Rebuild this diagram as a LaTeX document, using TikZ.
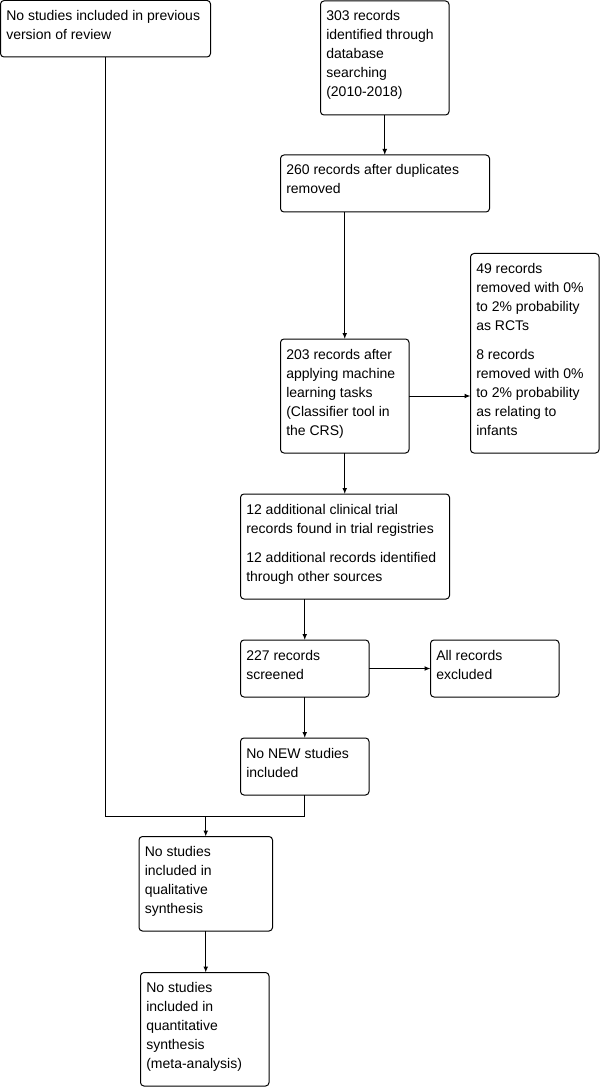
\documentclass[tikz,border=0pt]{standalone}
\usepackage{fontspec}
\setmainfont{Liberation Sans}
\usetikzlibrary{arrows.meta}
\tikzset{
  box/.style={draw=black, line width=0.75pt, rounded corners=2.6pt, inner sep=0pt, outer sep=0pt, anchor=north west},
  txt/.style={inner sep=0pt, anchor=base west, font=\fontsize{10.5}{14.25}\selectfont},
  conn/.style={draw=black, line width=0.75pt},
  arr/.style={conn, -{Latex[length=4.5pt,width=3.6pt]}}
}
\newcommand\tbox[6]{%
  \node[box, minimum width=#4*0.75pt, minimum height=#5*0.75pt] (#1) at (#2,#3) {};
  \node[txt] (#1t) at ([shift={(5.5,20)}]#1.north west) {\parbox[t]{300pt}{\raggedright #6}};
}
\begin{document}
\begin{tikzpicture}[x=0.75pt,y=-0.75pt]
\useasboundingbox (0,0) rectangle (602,1087);
\tbox{b1}{0.5}{0.5}{210}{56.5}{No studies included in previous\\version of review}
\tbox{b2}{320.5}{1}{128.5}{114}{303 records\\identified through\\database\\searching\\(2010-2018)}
\tbox{b3}{280.5}{155}{209}{57}{260 records after duplicates\\removed}
\tbox{b4}{470.5}{253.5}{128.5}{199.5}{49 records\\removed with 0\%\\to 2\% probability\\as RCTs\\[7.5pt]8 records\\removed with 0\%\\to 2\% probability\\as relating to\\infants}
\tbox{b5}{280.5}{339}{128.5}{114}{203 records after\\applying machine\\learning tasks\\(Classifier tool in\\the CRS)}
\tbox{b6}{240.5}{494}{209}{105}{12 additional clinical trial\\records found in trial registries\\[7.5pt]12 additional records identified\\through other sources}
\tbox{b7}{240.5}{640}{128.5}{57}{227 records\\screened}
\tbox{b8}{430.5}{640}{128.5}{57}{All records\\excluded}
\tbox{b9}{240.5}{738}{128.5}{57}{No NEW studies\\included}
\tbox{b10}{139}{836.5}{133.5}{94.5}{No studies\\included in\\qualitative\\synthesis}
\tbox{b11}{140.5}{972.5}{128.5}{113.5}{No studies\\included in\\quantitative\\synthesis\\(meta-analysis)}
\coordinate (j) at (205.75,816);
\draw[arr] (b2.south) -- (b2.south |- b3.north);
\draw[arr] (b5.north |- b3.south) -- (b5.north);
\draw[arr] (b5.east) -- (b5.east -| b4.west);
\draw[arr] (b5.south) -- (b5.south |- b6.north);
\draw[arr] (b7.north |- b6.south) -- (b7.north);
\draw[arr] (b7.east) -- (b7.east -| b8.west);
\draw[arr] (b7.south) -- (b9.north);
\draw[conn] (b1.south) |- (j);
\draw[conn] (b9.south) |- (j);
\draw[arr] (j) -- (b10.north);
\draw[arr] (b10.south) -- (b10.south |- b11.north);
\end{tikzpicture}
\end{document}
